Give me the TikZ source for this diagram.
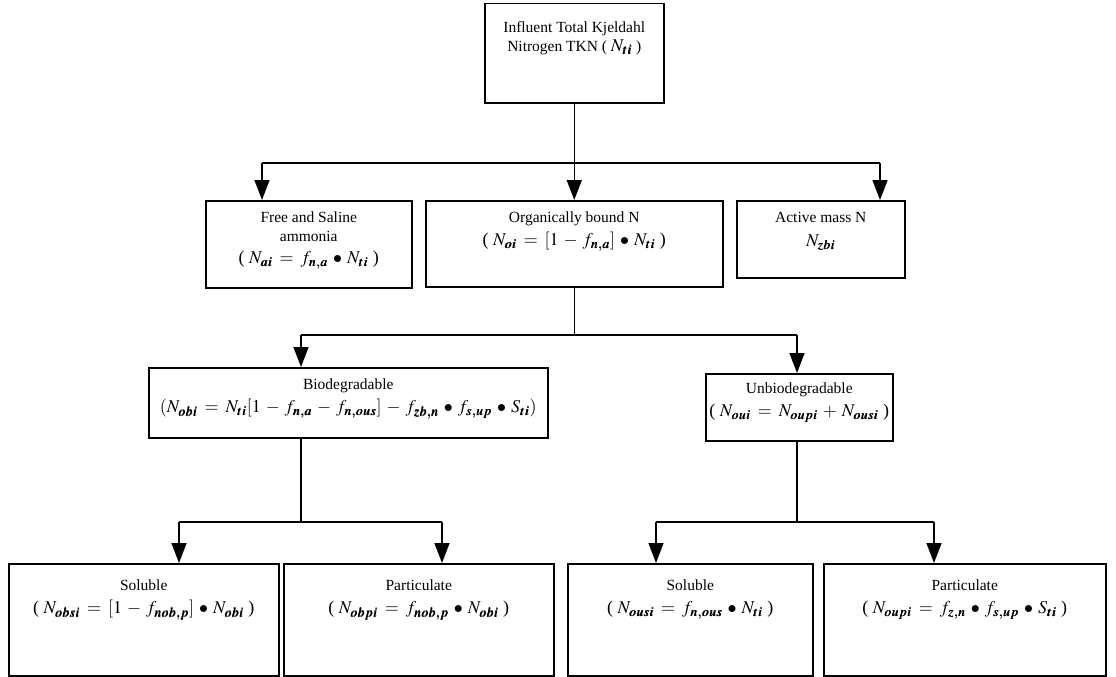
\documentclass[tikz,border=0pt]{standalone}
\usepackage{mathptmx}
\usepackage{bm}
\usepackage{fontspec}
\setmainfont{Liberation Serif}
\usetikzlibrary{arrows.meta}

% bold italic subscript, as used in the nitrogen fractions
\newcommand{\bsb}[1]{_{\bm{#1}}}
% formula line set larger than the caption text
\newcommand{\fml}[1]{{\fontsize{18}{22}\selectfont
  \medmuskip=5mu plus 2mu\thickmuskip=7mu plus 3mu #1}}

\begin{document}
\begin{tikzpicture}[x=1pt,y=-1pt,
  box/.style={draw, line width=1.5pt, anchor=north west, inner sep=0pt},
  txt/.style={align=center, anchor=north, inner sep=0pt,
              font=\fontsize{15.5}{19}\selectfont},
  link/.style={line width=1.5pt},
  arr/.style={line width=1.5pt, -{Triangle[width=15pt,length=20pt]}}]
\useasboundingbox (0,0) rectangle (1116,677);

% ---- boxes ----
\node[box, minimum width=179pt, minimum height=99pt] (tkn) at (484,3) {};
\node[box, minimum width=206pt, minimum height=87pt] (free) at (205,200) {};
\node[box, minimum width=297pt, minimum height=86pt] (org) at (425,200) {};
\node[box, minimum width=168pt, minimum height=77pt] (act) at (736,200) {};
\node[box, minimum width=399pt, minimum height=70pt] (bio) at (148,367) {};
\node[box, minimum width=187pt, minimum height=67pt] (unbio) at (705,373) {};
\node[box, minimum width=270pt, minimum height=112pt] (solA) at (8,563) {};
\node[box, minimum width=270pt, minimum height=112pt] (partA) at (283,563) {};
\node[box, minimum width=245pt, minimum height=112pt] (solB) at (567,563) {};
\node[box, minimum width=282pt, minimum height=112pt] (partB) at (823,563) {};

% ---- texts ----
\node[txt] (tknT) at ([yshift=-18pt]tkn.north)
  {Influent Total Kjeldahl\\Nitrogen TKN ( \fml{$N\bsb{ti}$} )};
\node[txt] (freeT) at ([yshift=-12pt]free.north)
  {Free and Saline\\ammonia\\[3pt]
   \fml{( $N\bsb{ai} = f\bsb{n,a} \bullet N\bsb{ti}$ )}};
\node[txt] (orgT) at ([yshift=-12pt]org.north)
  {Organically bound N\\[4pt]
   \fml{( $N\bsb{oi} = [1 - f\bsb{n,a}] \bullet N\bsb{ti}$ )}};
\node[txt] (actT) at ([yshift=-12pt]act.north)
  {Active mass N\\[5pt]\fml{$N\bsb{zbi}$}};
\node[txt] (bioT) at ([yshift=-12pt]bio.north)
  {Biodegradable\\[4pt]
   \fml{$(N\bsb{obi} = N\bsb{ti}[1 - f\bsb{n,a} - f\bsb{n,ous}] - f\bsb{zb,n} \bullet f\bsb{s,up} \bullet S\bsb{ti})$}};
\node[txt] (unbioT) at ([yshift=-10pt]unbio.north)
  {Unbiodegradable\\[4pt]
   \fml{( $N\bsb{oui} = N\bsb{oupi} + N\bsb{ousi}$ )}};
\node[txt] (solAT) at ([yshift=-17pt]solA.north)
  {Soluble\\[4pt]
   \fml{( $N\bsb{obsi} = [1 - f\bsb{nob,p}] \bullet N\bsb{obi}$ )}};
\node[txt] (partAT) at ([yshift=-17pt]partA.north)
  {Particulate\\[4pt]
   \fml{( $N\bsb{obpi} = f\bsb{nob,p} \bullet N\bsb{obi}$ )}};
\node[txt] (solBT) at ([yshift=-17pt]solB.north)
  {Soluble\\[4pt]
   \fml{( $N\bsb{ousi} = f\bsb{n,ous} \bullet N\bsb{ti}$ )}};
\node[txt] (partBT) at ([yshift=-17pt]partB.north)
  {Particulate\\[4pt]
   \fml{( $N\bsb{oupi} = f\bsb{z,n} \bullet f\bsb{s,up} \bullet S\bsb{ti}$ )}};

% ---- connectors: influent to first split ----
\coordinate (j0) at (tkn.south |- 0,163);
\coordinate (jL) at (262,163);
\coordinate (jR) at (880,163);
\draw[link] (tkn.south) -- (j0);
\draw[link] (jL) -- (jR);
\draw[arr] (jL) -- (jL |- free.north);
\draw[arr] (j0) -- (j0 |- org.north);
\draw[arr] (jR) -- (jR |- act.north);

% ---- organically bound split ----
\coordinate (k0) at (org.south |- 0,335);
\coordinate (kL) at (301,335);
\coordinate (kR) at (797,335);
\draw[link] (org.south) -- (k0);
\draw[link] (kL) -- (kR);
\draw[arr] (kL) -- (kL |- bio.north);
\draw[arr] (kR) -- (kR |- unbio.north);

% ---- biodegradable split ----
\coordinate (m0) at (301,522);
\coordinate (mL) at (179,522);
\coordinate (mR) at (442,522);
\draw[link] (m0 |- bio.south) -- (m0);
\draw[link] (mL) -- (mR);
\draw[arr] (mL) -- (mL |- solA.north);
\draw[arr] (mR) -- (mR |- partA.north);

% ---- unbiodegradable split ----
\coordinate (n0) at (797,522);
\coordinate (nL) at (656,522);
\coordinate (nR) at (934,522);
\draw[link] (n0 |- unbio.south) -- (n0);
\draw[link] (nL) -- (nR);
\draw[arr] (nL) -- (nL |- solB.north);
\draw[arr] (nR) -- (nR |- partB.north);
\end{tikzpicture}
\end{document}
